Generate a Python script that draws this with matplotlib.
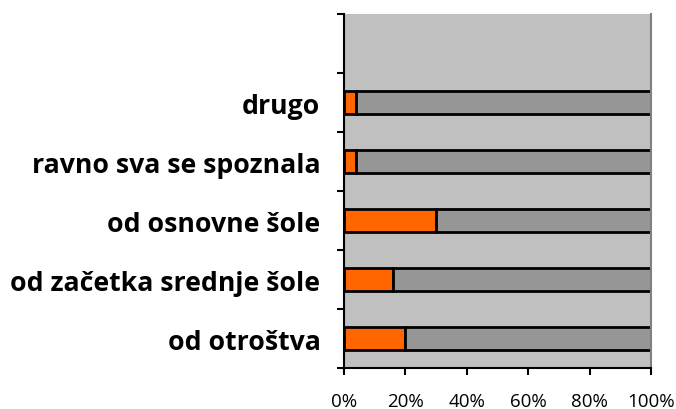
import matplotlib.pyplot as plt
import numpy as np

categories = ["od otroštva", "od začetka srednje šole", "od osnovne šole",
              "ravno sva se spoznala", "drugo"]
share_yes = [20, 16, 30, 4, 4]
share_rest = [80, 84, 70, 96, 96]
x_ticks = [0, 20, 40, 60, 80, 100]

fig = plt.figure(figsize=(6.76, 4.10), dpi=100)
ax = fig.add_axes([0.509, 0.1, 0.454, 0.863])
ax.set_facecolor("#C0C0C0")

y = np.arange(len(categories))
ax.barh(y, share_yes, height=0.39, color="#FF6600", edgecolor="black", linewidth=2)
ax.barh(y, share_rest, left=share_yes, height=0.39, color="#969696",
        edgecolor="black", linewidth=2)

ax.set_xlim(0, 100)
ax.set_ylim(-0.5, len(categories) + 0.5)
ax.set_xticks(x_ticks)
ax.set_xticklabels([f"{v}%" for v in x_ticks], fontsize=13.5, family="Open Sans")
ax.tick_params(axis="x", direction="out", length=5, width=1.5, pad=12)

# category boundaries get the tick marks, labels sit at the centres
ax.set_yticks(np.arange(-0.5, len(categories) + 1, 1))
ax.set_yticklabels([])
ax.set_yticks(y, minor=True)
ax.set_yticklabels(categories, minor=True, fontsize=19.2, fontweight="bold",
                   family="Open Sans")
ax.tick_params(axis="y", which="major", direction="out", length=5, width=1.5)
ax.tick_params(axis="y", which="minor", length=0, pad=17)

ax.spines["top"].set_visible(False)
ax.spines["right"].set_color("#808080")
ax.spines["right"].set_linewidth(1.5)
ax.spines["left"].set_linewidth(1.5)
ax.spines["bottom"].set_linewidth(1.5)

fig.savefig("out.png", dpi=100)
